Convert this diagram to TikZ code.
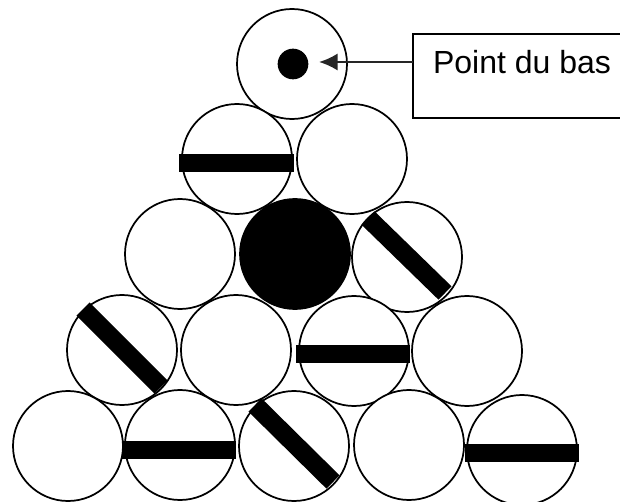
\documentclass[tikz,border=0pt]{standalone}
\usepackage{fontspec}
\setmainfont{Liberation Sans}
\usetikzlibrary{arrows.meta}
\tikzset{
 ball/.style={circle,draw=black,line width=1.3pt,fill=white,minimum size=82.5pt,inner sep=0pt},
 solid ball/.style={ball,fill=black},
 stripe/.style={line width=14pt,black,line cap=butt},
 frame/.style={draw=black,line width=0.8pt},
 pointer/.style={line width=1.8pt,black!85,-{Latex[length=14pt,width=13pt]}}
}
\begin{document}
\begin{tikzpicture}[x=0.75pt,y=-0.75pt]
\useasboundingbox (0,0) rectangle (620,502);
\node[ball] (t1) at (292,64) {};
\node[ball] (a1) at (237,159) {};
\node[ball] (a2) at (352,159) {};
\node[ball] (b1) at (180,254) {};
\node[solid ball] (b2) at (295,254) {};
\node[ball] (b3) at (407,257) {};
\node[ball] (c1) at (122,350) {};
\node[ball] (c2) at (236,350) {};
\node[ball] (c3) at (354,351) {};
\node[ball] (c4) at (467,351) {};
\node[ball] (d1) at (68,446) {};
\node[ball] (d2) at (180,445) {};
\node[ball] (d3) at (294,446) {};
\node[ball] (d4) at (409,445) {};
\node[ball] (d5) at (522,450) {};
\node[circle,fill=black,minimum size=23pt,inner sep=0pt] (dot) at (293,64) {};
\coordinate (a1l) at (179,163); \coordinate (a1r) at (294,163);
\coordinate (c3l) at (296,354); \coordinate (c3r) at (410,354);
\coordinate (d2l) at (122,450); \coordinate (d2r) at (236,450);
\coordinate (d5l) at (465,453); \coordinate (d5r) at (579,453);
\coordinate (b3s) at (368,218); \coordinate (b3e) at (445,293);
\coordinate (c1s) at (83,309); \coordinate (c1e) at (161,387);
\coordinate (d3s) at (255,405); \coordinate (d3e) at (333,482);
\draw[stripe] (a1l) -- (a1r);
\draw[stripe] (c3l) -- (c3r);
\draw[stripe] (d2l) -- (d2r);
\draw[stripe] (d5l) -- (d5r);
\draw[stripe] (b3s) -- (b3e);
\draw[stripe] (c1s) -- (c1e);
\draw[stripe] (d3s) -- (d3e);
\draw[frame] (620,34) -- (413,34) -- (413,118) -- (620,118);
\node[font=\fontsize{24}{28}\selectfont,anchor=base,inner sep=0pt] (lab) at (522,74) {Point du bas};
\coordinate (ls) at (413,62);
\coordinate (le) at (319,62);
\draw[pointer] (ls) -- (le);
\end{tikzpicture}
\end{document}
